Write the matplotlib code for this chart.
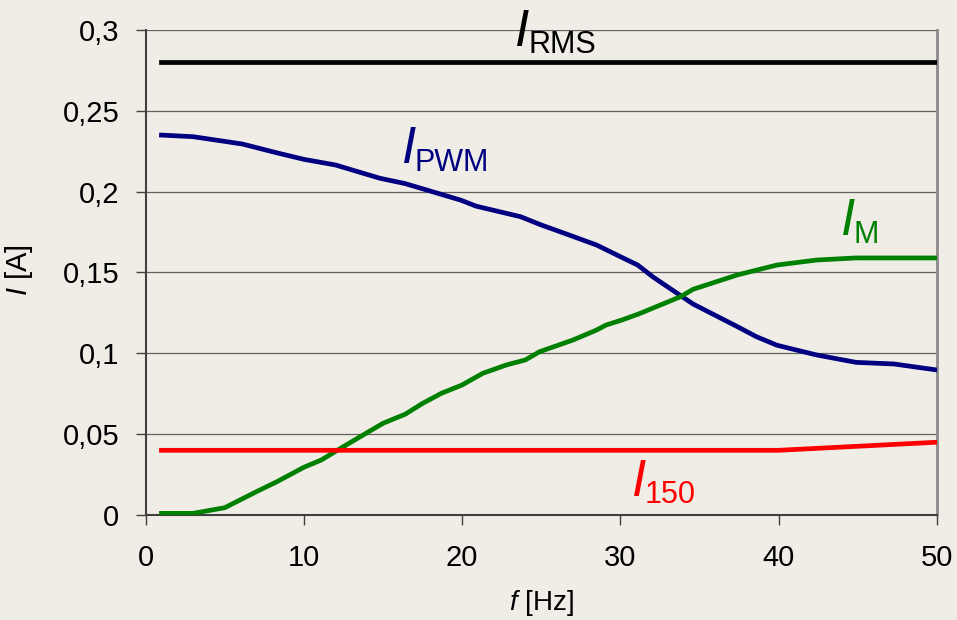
import matplotlib.pyplot as plt
import numpy as np

plt.rcParams['font.family'] = ['Liberation Sans', 'DejaVu Sans']
plt.rcParams['mathtext.fontset'] = 'custom'
plt.rcParams['mathtext.rm'] = 'Liberation Sans'
plt.rcParams['mathtext.it'] = 'Liberation Sans:italic'

# data
f_rms = [1, 50]
i_rms = [0.28, 0.28]

f_pwm = [1, 3, 6.1, 8.3, 10, 12, 14.8, 16.4, 19.9, 20.9, 23.7, 25, 26.2, 28.5,
         30, 31.1, 32.1, 34.6, 37.4, 38.6, 39.9, 42.4, 44.9, 47.3, 50]
i_pwm = [0.235, 0.234, 0.2295, 0.224, 0.220, 0.2165, 0.2083, 0.205, 0.1948,
         0.191, 0.1845, 0.1794, 0.1752, 0.167, 0.1598, 0.1546, 0.147, 0.1305,
         0.1165, 0.1103, 0.105, 0.099, 0.0944, 0.0934, 0.0897]

f_m = [1, 3, 5, 7, 8.3, 10, 11.1, 12.5, 13.75, 15, 16.4, 17.5, 18.7, 20, 21.3,
       22.8, 24, 24.9, 27, 28.5, 29.1, 30.1, 31.2, 33.8, 34.6, 37.4, 39.9,
       42.4, 44.9, 50]
i_m = [0.001, 0.001, 0.0045, 0.0144, 0.0206, 0.0295, 0.034, 0.0423, 0.0495,
       0.0567, 0.0623, 0.069, 0.0753, 0.0804, 0.0876, 0.0928, 0.0959, 0.101,
       0.1082, 0.1144, 0.1175, 0.1206, 0.1245, 0.135, 0.1396, 0.1485, 0.1546,
       0.1577, 0.159, 0.159]

f_150 = [1, 40, 50]
i_150 = [0.04, 0.04, 0.045]

x_ticks = [0, 10, 20, 30, 40, 50]
y_ticks = [0, 0.05, 0.1, 0.15, 0.2, 0.25, 0.3]
y_ticklabels = ['0', '0,05', '0,1', '0,15', '0,2', '0,25', '0,3']

bg = '#EFEDE5'
fig = plt.figure(figsize=(9.57, 6.2), dpi=100, facecolor=bg)
ax = fig.add_axes([0.1522, 0.1694, 0.8266, 0.7822], facecolor=bg)

for y in y_ticks[1:]:
    ax.axhline(y, color='#606060', lw=0.9, zorder=1)

ax.plot(f_rms, i_rms, color='black', lw=3.4, zorder=3)
ax.plot(f_pwm, i_pwm, color='#000080', lw=3.4, zorder=3)
ax.plot(f_m, i_m, color='#008000', lw=3.4, zorder=3)
ax.plot(f_150, i_150, color='#FF0000', lw=3.4, zorder=3)


def label(x, y, sub, color):
    # subscript anchored at (x, y); the big italic I sits to its left, a bit higher
    ax.text(x, y, sub, fontsize=22, color=color, ha='left', va='baseline', zorder=4)
    ax.annotate('I', (x, y), xytext=(0.7, 5.5), textcoords='offset points',
                fontsize=37, style='italic', color=color, ha='right',
                va='baseline', zorder=4)


label(24.17, 0.2856, 'RMS', 'black')
label(17.02, 0.2130, 'PWM', '#000080')
label(44.77, 0.1684, 'M', '#008000')
label(31.56, 0.0072, '150', '#FF0000')

ax.set_xlim(0, 50)
ax.set_ylim(0, 0.3)
ax.set_xticks(x_ticks)
ax.set_yticks(y_ticks)
ax.set_yticklabels(y_ticklabels)
ax.tick_params(labelsize=21, length=7, width=1, color='#404040', pad=12)
ax.tick_params(axis='x', pad=14)

ax.spines['top'].set_visible(False)
ax.spines['right'].set_color('#8a8a8a')
ax.spines['right'].set_linewidth(2)
ax.spines['left'].set_color('#404040')
ax.spines['left'].set_linewidth(1.5)
ax.spines['bottom'].set_color('#404040')
ax.spines['bottom'].set_linewidth(1.5)

ax.set_xlabel(r'$f$ [Hz]', fontsize=20)
ax.set_ylabel(r'$I$ [A]', fontsize=21)
ax.xaxis.set_label_coords(0.5, -0.15)
ax.yaxis.set_label_coords(-0.14, 0.505)

fig.savefig('out.png', dpi=100, facecolor=bg)
